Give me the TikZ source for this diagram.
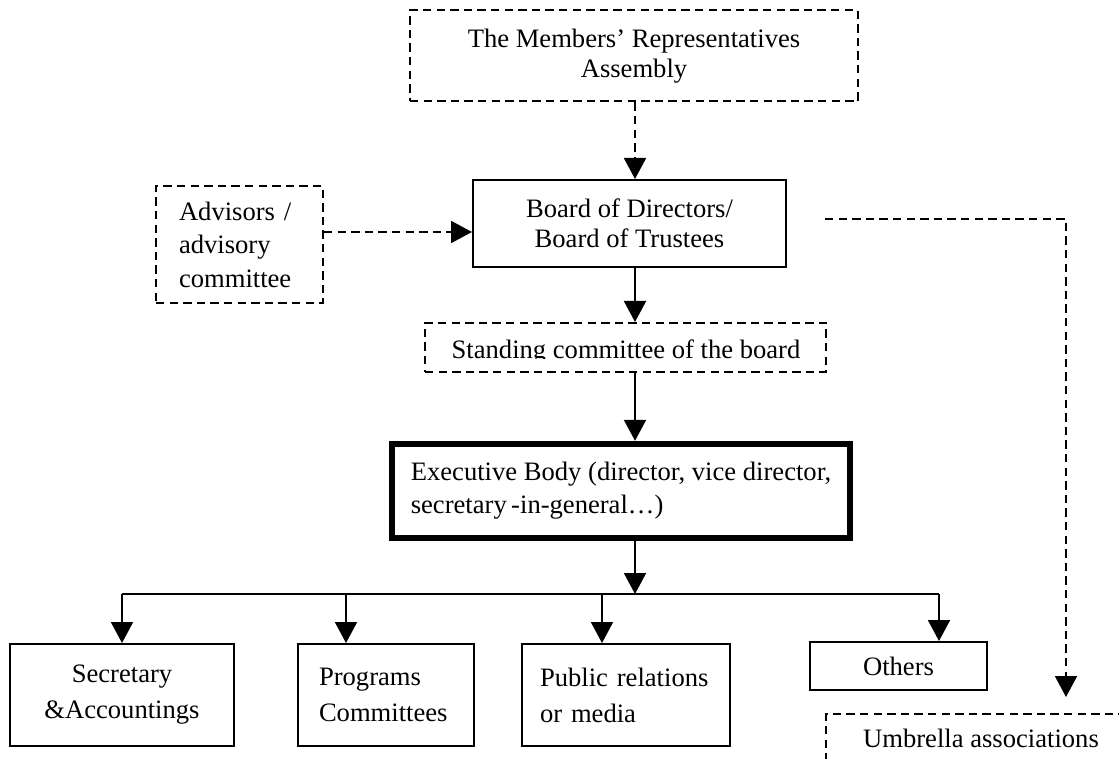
\documentclass[tikz,border=0pt]{standalone}
\usepackage{fontspec}
\setmainfont{Liberation Serif}
\usetikzlibrary{arrows.meta}
\tikzset{
  box/.style={draw, line width=1pt, inner sep=0pt, align=center},
  dbox/.style={box, dash pattern=on 4.2pt off 2.6pt},
  arr/.style={line width=1pt, -{Triangle[length=10.5pt,width=11pt]}},
  darr/.style={arr, dash pattern=on 4.2pt off 2.6pt},
}

\begin{document}
\begin{tikzpicture}[x=0.5pt,y=-0.5pt,font=\fontsize{13.3}{15}\selectfont]
\useasboundingbox (0,0) rectangle (1119,759);
\clip (0,0) rectangle (1119,759);
\coordinate (mid) at (635,594);
\coordinate (ustart) at (825,219); \coordinate (uend) at (1066,697);

\node[dbox, minimum width=224pt, minimum height=45.5pt] (assembly) at (634,56) {The Members’ Representatives\\ Assembly};
\node[box, minimum width=156.5pt, minimum height=43.5pt] (board) at (629.5,223.5) {Board of Directors/\\ Board of Trustees};
\node[dbox, minimum width=83.5pt, minimum height=58.5pt, text width=60.5pt, align=left,
  font=\fontsize{13.3}{16.75}\selectfont] (advisors) at (239.5,244.5) {Advisors /\\ advisory\\ committee};
\node[dbox, minimum width=200.5pt, minimum height=24.5pt] (standing) at (625.5,347.5) {};
\begin{scope}
\clip (standing.north west) rectangle (826,358);
\node[anchor=base] (standtext) at (626,358) {Standing committee of the board};
\end{scope}
\node[box, line width=3.2pt, minimum width=229pt, minimum height=47pt, align=left,
  font=\fontsize{13.3}{16.5}\selectfont] (exec) at (621,491) {Executive Body (director, vice director,\\ secretary\,-in-general…)};

% bottom row
\begin{scope}[font=\fontsize{13.3}{18}\selectfont]
\node[box, minimum width=112pt, minimum height=51pt] (sec) at (122,695) {Secretary\\ \&Accountings};
\node[box, minimum width=88pt, minimum height=51pt, text width=67pt, align=left] (prog) at (386,695) {Programs\\ Committees};
\node[box, minimum width=104pt, minimum height=51pt, text width=86pt, align=left] (pub) at (626,695) {Public relations\\ or media};
\node[box, minimum width=88.5pt, minimum height=24pt] (others) at (898.5,666) {Others};
\end{scope}
\node[dbox, minimum width=155pt, minimum height=24pt] (umbrella) at (981,738) {Umbrella associations};

\draw[darr] (assembly.south -| mid) -- (board.north -| mid);
\draw[darr] (advisors.east |- 0,232) -- (board.west |- 0,232);
\draw[arr] (board.south -| mid) -- (standing.north -| mid);
\draw[arr] (standing.south -| mid) -- (exec.north -| mid);
\draw[arr] (exec.south -| mid) -- (mid);
\draw[line width=1pt] (sec.north |- mid) -- (939,594);
\foreach \b/\x in {sec/122, prog/346, pub/602, others/939}
  \draw[arr] (\x,594) -- (\b.north -| \x,0);
\draw[darr] (ustart) -| (uend);
\end{tikzpicture}
\end{document}
